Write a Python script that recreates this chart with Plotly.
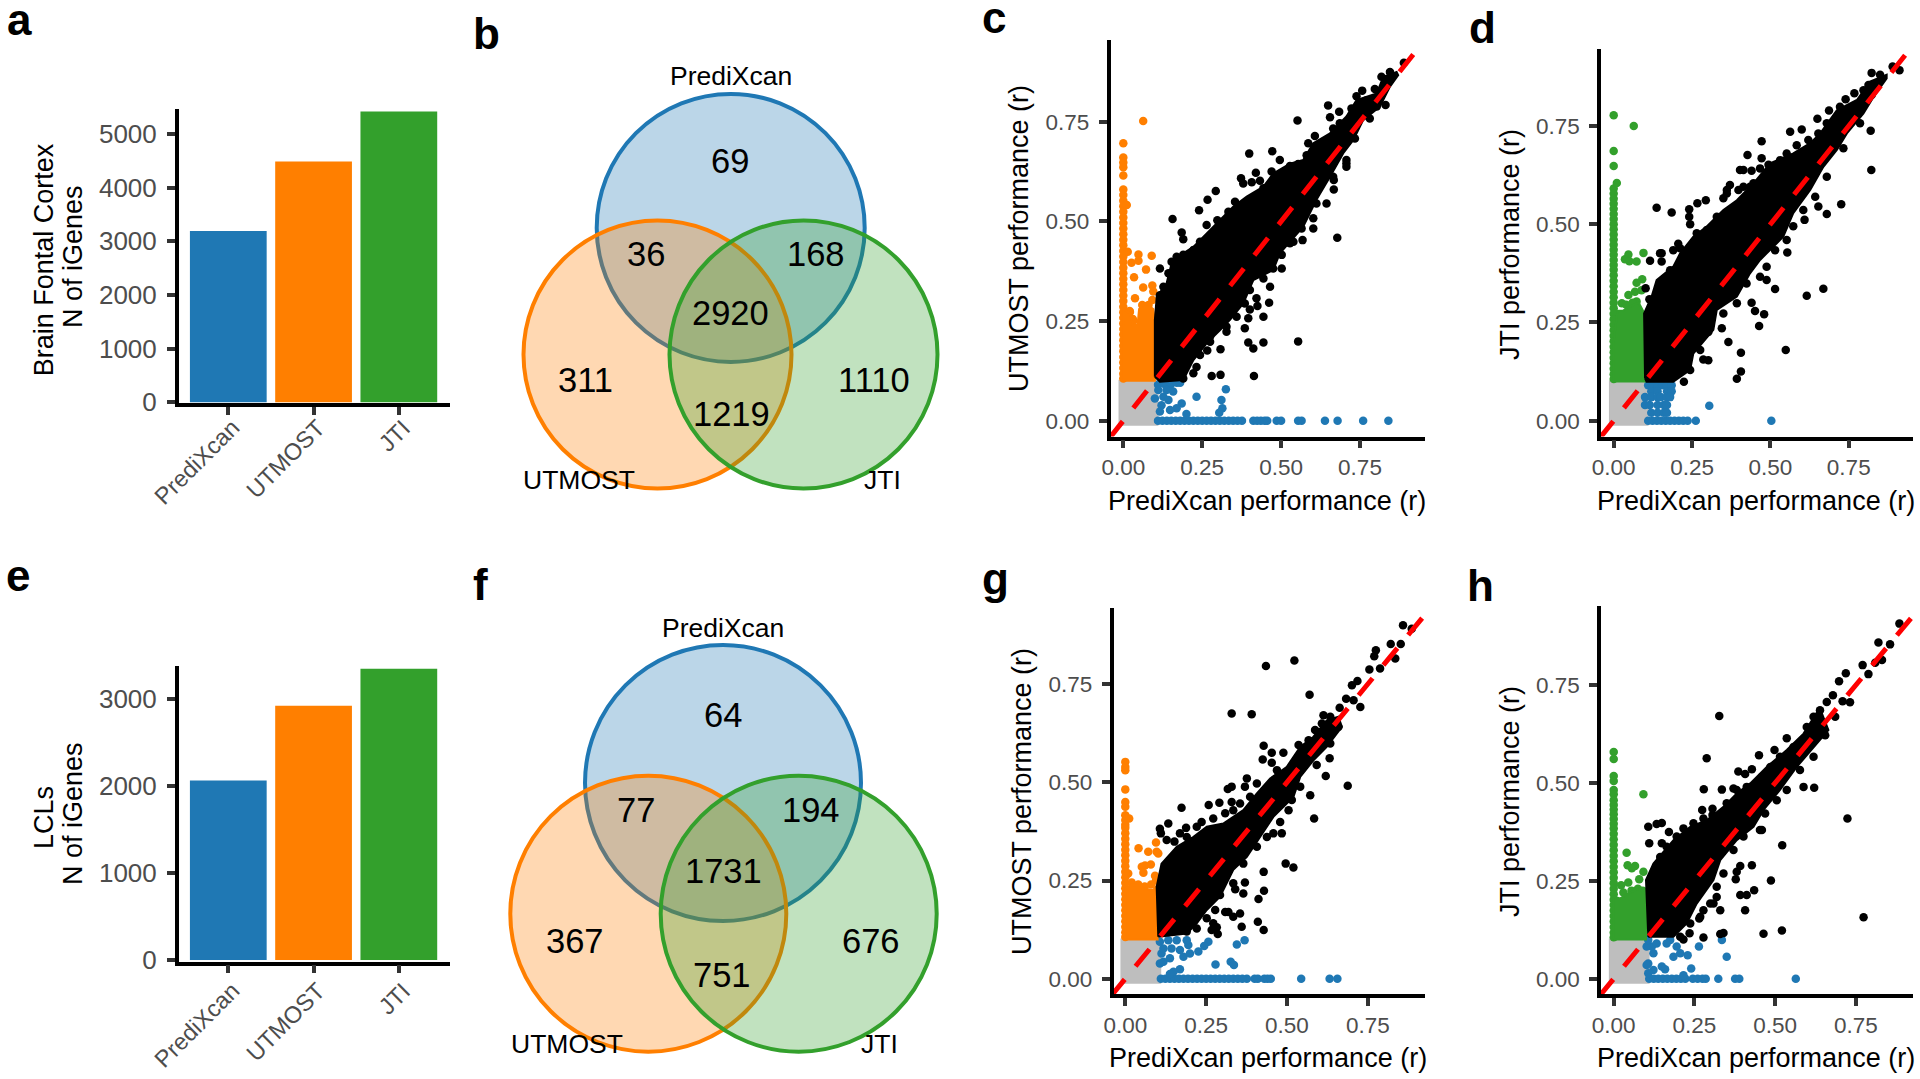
#!/usr/bin/env python3

import plotly.graph_objects as go

W = 1920
H = 1079

BLUE = '#1f78b4'
ORANGE = '#ff7f00'
GREEN = '#33a02c'
GREY = '#bebebe'
FONT = 'Liberation Sans'

methods = ['PrediXcan', 'UTMOST', 'JTI']
bars_a = [3193, 4486, 5417]
bars_e = [2066, 2926, 3352]

# venn counts, order: only1, 1&2, 1&3, all, only2, only3, 2&3
venn_b_counts = ['69', '36', '168', '2920', '311', '1110', '1219']
venn_f_counts = ['64', '77', '194', '1731', '367', '676', '751']

# the scatter clouds are too overplotted to read single genes, so the solid
# part of each cloud is its outline and only the points that stand clear are listed
col_low = [0.384, 0.37, 0.356, 0.342, 0.328, 0.314, 0.3, 0.286, 0.272, 0.258, 0.244, 0.23, 0.216,
           0.202, 0.188, 0.174, 0.16, 0.146, 0.132, 0.118, 0.106]
row_low = [0.11, 0.124, 0.138, 0.152, 0.166, 0.18, 0.194, 0.208, 0.222]
row_mid = [0.236, 0.25, 0.264, 0.278, 0.292, 0.306, 0.32, 0.334, 0.348, 0.362]
grey_x = [-0.012, 0.108, 0.108, -0.012]
grey_y = [-0.01, -0.01, 0.1, 0.1]

# panel c
c_core_x = [0.1, 0.1, 0.106, 0.137, 0.153, 0.19, 0.222, 0.264, 0.306, 0.348, 0.391, 0.444, 0.475, 0.528, 0.57, 0.602,
            0.655, 0.707, 0.739, 0.803, 0.824, 0.866, 0.871, 0.845, 0.813, 0.76, 0.729, 0.697, 0.655, 0.612, 0.57,
            0.496, 0.475, 0.412, 0.38, 0.338, 0.306, 0.264, 0.222, 0.19, 0.116]
c_core_y = [0.11, 0.253, 0.311, 0.344, 0.395, 0.42, 0.436, 0.47, 0.503, 0.537, 0.562, 0.587, 0.62, 0.645, 0.654, 0.696,
            0.721, 0.763, 0.804, 0.821, 0.863, 0.875, 0.867, 0.838, 0.788, 0.754, 0.704, 0.671, 0.612, 0.554, 0.487,
            0.42, 0.378, 0.353, 0.294, 0.253, 0.227, 0.194, 0.152, 0.102, 0.098]
c_black_x = [0.889, 0.757, 0.797, 0.649, 0.684, 0.655, 0.552, 0.831, 0.707, 0.667, 0.667, 0.678, 0.399, 0.472, 0.42,
             0.373, 0.293, 0.267, 0.24, 0.156, 0.185, 0.116, 0.19, 0.602, 0.568, 0.539, 0.502, 0.465, 0.462, 0.422,
             0.425, 0.401, 0.444, 0.396, 0.385, 0.327, 0.275, 0.308, 0.266, 0.396, 0.412, 0.444, 0.554, 0.414, 0.308,
             0.28, 0.232, 0.707]
c_black_y = [0.898, 0.828, 0.832, 0.791, 0.775, 0.761, 0.753, 0.792, 0.637, 0.604, 0.58, 0.459, 0.67, 0.676, 0.622,
             0.608, 0.576, 0.554, 0.528, 0.506, 0.472, 0.382, 0.455, 0.482, 0.453, 0.449, 0.382, 0.336, 0.296, 0.307,
             0.288, 0.279, 0.261, 0.257, 0.232, 0.223, 0.198, 0.179, 0.176, 0.196, 0.181, 0.196, 0.199, 0.112, 0.115,
             0.112, 0.135, 0.645]
c_rim_x = [0.169, 0.19, 0.222, 0.243, 0.264, 0.298, 0.333, 0.354, 0.38, 0.407, 0.433, 0.444, 0.47, 0.496, 0.528, 0.554,
           0.581, 0.586, 0.607, 0.665, 0.686, 0.723, 0.739, 0.771, 0.818, 0.845, 0.153, 0.143, 0.127, 0.116,
           0.243, 0.222, 0.19, 0.275, 0.327, 0.359, 0.385, 0.401, 0.444, 0.475, 0.502, 0.528, 0.565, 0.602, 0.612, 0.644,
           0.665, 0.707, 0.734, 0.781, 0.803]
c_rim_y = [0.411, 0.416, 0.428, 0.449, 0.491, 0.503, 0.524, 0.549, 0.595, 0.598, 0.602, 0.583, 0.625, 0.654, 0.639, 0.644,
           0.666, 0.696, 0.714, 0.733, 0.746, 0.783, 0.814, 0.804, 0.863, 0.875, 0.399, 0.37, 0.336, 0.315,
           0.165, 0.119, 0.106, 0.211, 0.236, 0.261, 0.294, 0.328, 0.357, 0.382, 0.416, 0.445, 0.482, 0.508, 0.545, 0.545,
           0.612, 0.654, 0.708, 0.758, 0.788]
c_side_x = [0.063, 0.011, 0.048, 0.026, 0.048, 0.09, 0.072, 0.034, 0.063, 0.092, 0.095, 0.037, 0.092, 0.014, 0.021,
            0.032, 0.02, 0.03, 0.015, 0.06, 0.08]
c_side_y = [0.752, 0.541, 0.417, 0.396, 0.401, 0.414, 0.379, 0.36, 0.334, 0.339, 0.324, 0.307, 0.303, 0.424, 0.273,
            0.25, 0.275, 0.255, 0.23, 0.29, 0.29]
c_side_col = [0.696, 0.66, 0.648, 0.636, 0.615, 0.58, 0.566, 0.552, 0.538, 0.524, 0.51, 0.496, 0.482, 0.468, 0.454,
              0.44, 0.426, 0.412, 0.398]
c_side_mass_x = [0.0, 0.1, 0.1, 0.095, 0.07, 0.05, 0.045, 0.03, 0.02, 0.0]
c_side_mass_y = [0.1, 0.1, 0.25, 0.28, 0.295, 0.28, 0.24, 0.24, 0.27, 0.28]
c_base_row = [0.376, 0.412, 0.424, 0.436, 0.448, 0.456, 0.486, 0.5, 0.554, 0.565, 0.639, 0.679, 0.76, 0.84]
c_base_x = [0.11, 0.13, 0.15, 0.17, 0.18, 0.325, 0.232, 0.311, 0.314, 0.304, 0.2, 0.185, 0.169, 0.148, 0.121, 0.1,
            0.127, 0.143, 0.116, 0.158, 0.137, 0.111]
c_base_y = [0.09, 0.092, 0.09, 0.095, 0.095, 0.079, 0.06, 0.052, 0.031, 0.02, 0.017, 0.043, 0.031, 0.027, 0.039, 0.056,
            0.06, 0.052, 0.023, 0.073, 0.077, 0.077]

# panel d
d_core_x = [0.1, 0.097, 0.121, 0.137, 0.19, 0.212, 0.254, 0.297, 0.35, 0.393, 0.446, 0.499, 0.573, 0.627, 0.659, 0.712,
            0.776, 0.818, 0.871, 0.871, 0.829, 0.797, 0.744, 0.712, 0.669, 0.627, 0.573, 0.541, 0.467, 0.435, 0.393,
            0.329, 0.318, 0.254, 0.244, 0.19, 0.105]
d_core_y = [0.108, 0.273, 0.316, 0.358, 0.392, 0.426, 0.468, 0.494, 0.536, 0.561, 0.604, 0.655, 0.68, 0.706, 0.731,
            0.79, 0.816, 0.863, 0.88, 0.871, 0.824, 0.782, 0.731, 0.689, 0.646, 0.587, 0.528, 0.468, 0.409, 0.375,
            0.316, 0.282, 0.231, 0.171, 0.129, 0.099, 0.099]
d_black_x = [0.89, 0.912, 0.823, 0.768, 0.797, 0.74, 0.687, 0.65, 0.472, 0.563, 0.6, 0.427, 0.472, 0.82, 0.822, 0.726,
             0.68, 0.653, 0.609, 0.573, 0.554, 0.669, 0.616, 0.515, 0.488, 0.44, 0.451, 0.48, 0.464, 0.345, 0.366,
             0.549, 0.406, 0.406, 0.393, 0.224, 0.302, 0.286, 0.137, 0.185, 0.241, 0.241, 0.244, 0.267, 0.294, 0.361,
             0.35, 0.403, 0.414, 0.44, 0.398, 0.435, 0.148, 0.116, 0.153, 0.19, 0.206, 0.102, 0.114]
d_black_y = [0.901, 0.892, 0.885, 0.833, 0.841, 0.818, 0.789, 0.768, 0.711, 0.735, 0.741, 0.676, 0.668, 0.738, 0.638,
             0.551, 0.526, 0.545, 0.511, 0.495, 0.428, 0.336, 0.318, 0.335, 0.358, 0.3, 0.279, 0.271, 0.241, 0.235, 0.2,
             0.18, 0.173, 0.125, 0.107, 0.099, 0.154, 0.156, 0.542, 0.53, 0.538, 0.519, 0.5, 0.553, 0.561, 0.587, 0.566,
             0.638, 0.638, 0.636, 0.587, 0.595, 0.426, 0.407, 0.405, 0.434, 0.45, 0.337, 0.309]
d_rim_x = [0.153, 0.18, 0.212, 0.222, 0.265, 0.297, 0.329, 0.361, 0.371, 0.414, 0.446, 0.467, 0.494, 0.531, 0.552, 0.584,
           0.621, 0.653, 0.68, 0.722, 0.813, 0.85,
           0.244, 0.201, 0.276, 0.302, 0.35, 0.393, 0.424, 0.467, 0.488, 0.515, 0.552, 0.605, 0.643, 0.68, 0.733, 0.786,
           0.823]
d_rim_y = [0.426, 0.383, 0.439, 0.409, 0.477, 0.485, 0.519, 0.578, 0.6, 0.595, 0.604, 0.642, 0.651, 0.663, 0.68, 0.701,
           0.714, 0.731, 0.757, 0.799, 0.854, 0.88,
           0.129, 0.12, 0.18, 0.226, 0.273, 0.299, 0.349, 0.366, 0.392, 0.434, 0.46, 0.536, 0.57, 0.621, 0.693, 0.757,
           0.829]
d_side_x = [0.064, 0.01, 0.047, 0.036, 0.05, 0.073, 0.095, 0.091, 0.073, 0.068, 0.047, 0.089, 0.026, 0.073, 0.04, 0.06]
d_side_y = [0.75, 0.605, 0.423, 0.411, 0.406, 0.405, 0.427, 0.36, 0.351, 0.328, 0.32, 0.332, 0.299, 0.303, 0.295, 0.3]
d_side_col = [0.777, 0.686, 0.648, 0.591, 0.578, 0.565, 0.552, 0.539, 0.526, 0.513, 0.5, 0.487, 0.474, 0.461, 0.448,
              0.435, 0.422, 0.409, 0.396]
d_side_mass_x = [0.0, 0.1, 0.1, 0.08, 0.05, 0.03, 0.012, 0.0]
d_side_mass_y = [0.1, 0.1, 0.27, 0.3, 0.29, 0.28, 0.28, 0.2]
d_base_row = [0.236, 0.262, 0.503]
d_base_x = [0.305, 0.11, 0.125, 0.14, 0.155, 0.17, 0.185, 0.12, 0.14, 0.17, 0.185, 0.1, 0.12, 0.14, 0.15, 0.17, 0.18,
            0.1, 0.115, 0.14, 0.16, 0.17, 0.12, 0.14, 0.16, 0.17]
d_base_y = [0.038, 0.09, 0.09, 0.09, 0.09, 0.09, 0.09, 0.075, 0.075, 0.075, 0.075, 0.06, 0.06, 0.06, 0.06, 0.06, 0.06,
            0.04, 0.04, 0.04, 0.04, 0.04, 0.02, 0.02, 0.02, 0.02]

# panel g
g_core_x = [0.102, 0.097, 0.112, 0.159, 0.211, 0.252, 0.303, 0.365, 0.407, 0.448, 0.499, 0.541, 0.582, 0.623, 0.659,
            0.67, 0.623, 0.582, 0.541, 0.52, 0.458, 0.438, 0.376, 0.334, 0.293, 0.252, 0.221, 0.19, 0.118]
g_core_y = [0.107, 0.234, 0.293, 0.336, 0.361, 0.387, 0.395, 0.429, 0.472, 0.51, 0.539, 0.59, 0.616, 0.658, 0.667,
            0.641, 0.59, 0.556, 0.514, 0.463, 0.412, 0.387, 0.31, 0.277, 0.209, 0.175, 0.141, 0.115, 0.107]
g_black_x = [0.859, 0.886, 0.821, 0.852, 0.775, 0.77, 0.835, 0.523, 0.435, 0.788, 0.755, 0.57, 0.329, 0.391, 0.701,
             0.718, 0.683, 0.706, 0.727, 0.663, 0.613, 0.428, 0.453, 0.489, 0.425, 0.453, 0.632, 0.62, 0.688, 0.572,
             0.584, 0.376, 0.317, 0.329, 0.37, 0.174, 0.258, 0.291, 0.329, 0.107, 0.133, 0.11, 0.169, 0.188, 0.152,
             0.496, 0.52, 0.428, 0.37, 0.429, 0.34, 0.365, 0.412, 0.319, 0.334, 0.355, 0.36, 0.41, 0.428, 0.283, 0.286,
             0.267]
g_black_y = [0.9, 0.891, 0.852, 0.852, 0.836, 0.821, 0.815, 0.81, 0.796, 0.79, 0.787, 0.723, 0.675, 0.673, 0.747, 0.758,
             0.713, 0.709, 0.692, 0.69, 0.671, 0.593, 0.575, 0.575, 0.558, 0.55, 0.561, 0.516, 0.491, 0.467, 0.408, 0.51,
             0.483, 0.489, 0.489, 0.435, 0.442, 0.448, 0.45, 0.382, 0.395, 0.37, 0.37, 0.384, 0.349, 0.293, 0.283, 0.272,
             0.245, 0.224, 0.228, 0.217, 0.203, 0.17, 0.158, 0.166, 0.132, 0.145, 0.124, 0.131, 0.114, 0.124]
g_rim_x = [0.128, 0.19, 0.221, 0.236, 0.272, 0.309, 0.334, 0.355, 0.386, 0.407, 0.469, 0.505, 0.536, 0.567, 0.587, 0.608,
           0.634, 0.211, 0.231, 0.278, 0.309, 0.293, 0.334, 0.365, 0.407, 0.438, 0.458, 0.484, 0.479, 0.505, 0.515,
           0.541, 0.592, 0.634, 0.659, 0.19, 0.221, 0.252, 0.272]
g_rim_y = [0.353, 0.361, 0.387, 0.399, 0.408, 0.421, 0.429, 0.446, 0.463, 0.497, 0.531, 0.531, 0.595, 0.607, 0.633, 0.65,
           0.667, 0.149, 0.175, 0.175, 0.17, 0.213, 0.243, 0.293, 0.336, 0.361, 0.37, 0.37, 0.399, 0.429, 0.455,
           0.489, 0.544, 0.599, 0.641, 0.12, 0.128, 0.154, 0.141]
g_side_x = [0.012, 0.041, 0.071, 0.095, 0.097, 0.102, 0.051, 0.061, 0.079, 0.056, 0.092, 0.009, 0.02, 0.04, 0.06, 0.08,
            0.095]
g_side_y = [0.408, 0.332, 0.323, 0.347, 0.323, 0.319, 0.285, 0.288, 0.291, 0.27, 0.262, 0.268, 0.245, 0.24, 0.235, 0.24,
            0.25]
g_side_col = [0.552, 0.539, 0.531, 0.482, 0.45, 0.438, 0.416, 0.404, 0.392]
g_side_mass_x = [0.0, 0.1, 0.1, 0.085, 0.06, 0.04, 0.02, 0.0]
g_side_mass_y = [0.1, 0.1, 0.24, 0.225, 0.23, 0.235, 0.24, 0.23]
g_base_row = [0.376, 0.4, 0.41, 0.43, 0.44, 0.45, 0.544, 0.632, 0.656]
g_base_x = [0.369, 0.345, 0.257, 0.244, 0.279, 0.326, 0.336, 0.169, 0.149, 0.138, 0.107, 0.118, 0.138, 0.112, 0.118,
            0.143, 0.159, 0.18, 0.2, 0.226, 0.195, 0.169, 0.107, 0.133, 0.19]
g_base_y = [0.098, 0.087, 0.094, 0.083, 0.036, 0.043, 0.035, 0.024, 0.018, 0.012, 0.039, 0.043, 0.052, 0.064, 0.077,
            0.077, 0.098, 0.056, 0.064, 0.069, 0.086, 0.073, 0.094, 0.098, 0.098]

# panel h
h_core_x = [0.107, 0.1, 0.123, 0.185, 0.237, 0.288, 0.34, 0.381, 0.423, 0.474, 0.536, 0.588, 0.634, 0.645, 0.665, 0.619,
            0.567, 0.515, 0.464, 0.433, 0.381, 0.33, 0.309, 0.257, 0.226, 0.185]
h_core_y = [0.107, 0.252, 0.294, 0.354, 0.388, 0.405, 0.439, 0.473, 0.499, 0.541, 0.584, 0.626, 0.686, 0.677, 0.635,
            0.592, 0.541, 0.482, 0.431, 0.388, 0.354, 0.303, 0.252, 0.192, 0.141, 0.107]
h_black_x = [0.885, 0.82, 0.856, 0.831, 0.81, 0.771, 0.719, 0.698, 0.789, 0.732, 0.679, 0.709, 0.66, 0.639, 0.686,
             0.327, 0.288, 0.45, 0.498, 0.536, 0.386, 0.407, 0.428, 0.588, 0.621, 0.279, 0.335, 0.371, 0.274, 0.306,
             0.306, 0.724, 0.522, 0.459, 0.428, 0.392, 0.381, 0.378, 0.487, 0.435, 0.392, 0.412, 0.407, 0.774, 0.521,
             0.464, 0.33, 0.34, 0.33, 0.278, 0.216, 0.235, 0.107, 0.133, 0.149, 0.11, 0.171, 0.149, 0.265, 0.278, 0.299,
             0.319]
h_black_y = [0.907, 0.859, 0.854, 0.814, 0.807, 0.801, 0.78, 0.76, 0.778, 0.706, 0.724, 0.709, 0.707, 0.686, 0.669,
             0.671, 0.563, 0.571, 0.584, 0.614, 0.529, 0.523, 0.535, 0.49, 0.488, 0.484, 0.483, 0.486, 0.431, 0.434,
             0.418, 0.409, 0.341, 0.38, 0.29, 0.288, 0.273, 0.254, 0.251, 0.226, 0.214, 0.214, 0.175, 0.157, 0.123,
             0.115, 0.175, 0.117, 0.114, 0.105, 0.1, 0.116, 0.388, 0.395, 0.398, 0.346, 0.375, 0.346, 0.154, 0.175, 0.192,
             0.209]
h_rim_x = [0.144, 0.164, 0.195, 0.216, 0.247, 0.278, 0.35, 0.381, 0.412, 0.459, 0.485, 0.515, 0.557, 0.598, 0.619,
           0.237, 0.268, 0.309, 0.319, 0.34, 0.371, 0.402, 0.453, 0.469, 0.505, 0.536, 0.577, 0.619, 0.655, 0.206]
h_rim_y = [0.311, 0.337, 0.363, 0.384, 0.397, 0.409, 0.448, 0.482, 0.49, 0.516, 0.541, 0.567, 0.592, 0.643, 0.669,
           0.141, 0.158, 0.192, 0.235, 0.269, 0.329, 0.363, 0.38, 0.422, 0.456, 0.482, 0.533, 0.567, 0.622, 0.107]
h_side_x = [0.092, 0.04, 0.043, 0.066, 0.092, 0.079, 0.023, 0.045, 0.056, 0.03, 0.055, 0.075, 0.09]
h_side_y = [0.471, 0.322, 0.29, 0.288, 0.273, 0.254, 0.239, 0.246, 0.282, 0.22, 0.225, 0.23, 0.225]
h_side_col = [0.579, 0.561, 0.518, 0.505, 0.482, 0.471, 0.456, 0.444, 0.432, 0.42, 0.408, 0.396]
h_side_mass_x = [0.0, 0.1, 0.1, 0.08, 0.05, 0.02, 0.0]
h_side_mass_y = [0.1, 0.1, 0.215, 0.23, 0.22, 0.205, 0.21]
h_base_row = [0.245, 0.26, 0.275, 0.285, 0.324, 0.376, 0.389, 0.564]
h_base_x = [0.335, 0.264, 0.35, 0.24, 0.229, 0.206, 0.185, 0.195, 0.175, 0.164, 0.149, 0.159, 0.123, 0.107, 0.123, 0.118,
            0.133, 0.102, 0.107, 0.102, 0.107, 0.216]
h_base_y = [0.099, 0.082, 0.056, 0.026, 0.06, 0.065, 0.056, 0.082, 0.099, 0.09, 0.031, 0.024, 0.022, 0.039, 0.065, 0.082,
            0.09, 0.082, 0.099, 0.035, 0.014, 0.009]

fig = go.Figure()
annots = []
shapes = []


def px_x(x):
    return x / W


def px_y(y):
    return 1 - y / H


def set_axes(n, left, right, top, bottom, x_range, y_range, **kw):
    suffix = '' if n == 1 else str(n)
    xname = 'xaxis' + suffix
    yname = 'yaxis' + suffix
    common = dict(showgrid=False, zeroline=False, showline=True, linecolor='black', linewidth=3.5,
                  ticks='outside', ticklen=8, tickwidth=3.5, tickcolor='#333333',
                  tickfont=dict(family=FONT, color='#4d4d4d', size=kw.get('tick_size', 22.5)),
                  ticklabelstandoff=5, automargin=False)
    xaxis = dict(common, domain=[px_x(left), px_x(right)], range=x_range, anchor='y' + suffix)
    yaxis = dict(common, domain=[px_y(bottom), px_y(top)], range=y_range, anchor='x' + suffix)
    xaxis.update(kw.get('x_extra', {}))
    yaxis.update(kw.get('y_extra', {}))
    fig.update_layout(**{xname: xaxis, yname: yaxis})
    return 'x' + suffix, 'y' + suffix


def label(text, x, y, size, color='black', angle=0, bold=False, anchor='center'):
    annots.append(dict(text='<b>%s</b>' % text if bold else text, x=px_x(x), y=px_y(y), xref='paper', yref='paper',
                       showarrow=False, textangle=angle, xanchor=anchor, yanchor='middle',
                       font=dict(family=FONT, size=size, color=color)))


def bar_panel(n, values, left, right, top, bottom, x_range, y_range, ticks, title_lines, names_top):
    xa, ya = set_axes(n, left, right, top, bottom, x_range, y_range, tick_size=26,
                      x_extra=dict(tickmode='array', tickvals=[0, 1, 2], showticklabels=False),
                      y_extra=dict(tickmode='array', tickvals=ticks))
    fig.add_trace(go.Bar(x=[0, 1, 2], y=values, width=0.9, marker=dict(color=[BLUE, ORANGE, GREEN], line=dict(width=0)),
                         xaxis=xa, yaxis=ya, showlegend=False))
    for text, x, y in title_lines:
        label(text, x, y, 27, angle=-90)
    # ggplot puts the end of a slanted label past the tick, plotly's ticklabels can't do that
    for i, text in enumerate(methods):
        annots.append(dict(text=text, x=i, y=px_y(names_top), xref=xa, yref='paper', showarrow=False, textangle=-45,
                           xanchor='right', yanchor='top', xshift=19,
                           font=dict(family=FONT, size=23.5, color='#4d4d4d')))


def venn_panel(n, x_range, y_range, cx, cy, r, counts, count_xy, names_xy):
    left, right = x_range
    bottom, top = y_range
    xa, ya = set_axes(n, left, right, top, bottom, [left, right], [bottom, top],
                      x_extra=dict(visible=False), y_extra=dict(visible=False))
    # needs a trace or the hidden axes do not exist for the shapes
    fig.add_trace(go.Scatter(x=[cx[0]], y=[cy[0]], mode='markers', marker=dict(opacity=0), xaxis=xa, yaxis=ya,
                             showlegend=False))
    for i, color in enumerate([(31, 120, 180), (255, 127, 0), (51, 160, 44)]):
        shapes.append(dict(type='circle', xref=xa, yref=ya, x0=cx[i] - r, x1=cx[i] + r, y0=cy[i] - r, y1=cy[i] + r,
                           fillcolor='rgba(%d,%d,%d,0.3)' % color, line=dict(color='rgb(%d,%d,%d)' % color, width=4)))
    for text, (x, y) in zip(counts, count_xy):
        annots.append(dict(text=text, x=x, y=y, xref=xa, yref=ya, showarrow=False,
                           font=dict(family=FONT, size=34.5, color='black')))
    for text, (x, y) in zip(methods, names_xy):
        annots.append(dict(text=text, x=x, y=y, xref=xa, yref=ya, showarrow=False,
                           font=dict(family=FONT, size=26.5, color='black')))


def scatter_panel(n, place, side_color, core_x, core_y, black_x, black_y, side_col, side_x, side_y, mass_x, mass_y,
                  base_row, base_x, base_y, line_end, xtitle_xy, ytitle, ytitle_xy):
    xa, ya = set_axes(n, *place, x_extra=dict(tickmode='array', tickvals=[0, 0.25, 0.5, 0.75], tickformat='.2f',
                                              ticklabelstandoff=0),
                      y_extra=dict(tickmode='array', tickvals=[0, 0.25, 0.5, 0.75], tickformat='.2f'))

    def dots(x, y, color):
        fig.add_trace(go.Scatter(x=x, y=y, mode='markers', marker=dict(color=color, size=8.5, line=dict(width=0)),
                                 xaxis=xa, yaxis=ya, showlegend=False))

    def mass(x, y, color):
        fig.add_trace(go.Scatter(x=x + x[:1], y=y + y[:1], mode='lines', fill='toself', fillcolor=color,
                                 line=dict(color=color, width=2), xaxis=xa, yaxis=ya, showlegend=False))

    mass(grey_x, grey_y, GREY)
    rows = row_low + base_row
    dots(rows + base_x, [0] * len(rows) + base_y, BLUE)
    cols = side_col + col_low
    dots([0] * len(cols) + side_x, cols + side_y, side_color)
    mass(mass_x, mass_y, side_color)
    mass(core_x, core_y, 'black')
    dots(black_x, black_y, 'black')
    fig.add_trace(go.Scatter(x=[-0.045, line_end], y=[-0.045, line_end], mode='lines', cliponaxis=False,
                             line=dict(color='#ff0000', width=5, dash='22px,17px'), xaxis=xa, yaxis=ya, showlegend=False))
    label('PrediXcan performance (r)', xtitle_xy[0], xtitle_xy[1], 27)
    label(ytitle, ytitle_xy[0], ytitle_xy[1], 27, angle=-90)


bar_panel(1, bars_a, 178.75, 450, 108.9, 403.25, [-0.581, 2.6], [-18, 5466], [0, 1000, 2000, 3000, 4000, 5000],
          [('Brain Fontal Cortex', 44, 260.3), ('N of iGenes', 73, 257)], 412)
bar_panel(5, bars_e, 178.75, 450, 666, 961.5, [-0.581, 2.6], [-17, 3383], [0, 1000, 2000, 3000],
          [('LCLs', 44, 818), ('N of iGenes', 73, 814)], 975)

venn_panel(2, (480, 960), (530, 0), [730.7, 657.5, 803.5], [227.9, 354.5, 354.5], 134, venn_b_counts,
           [(730, 160.6), (646, 253.5), (816, 253.5), (730, 312.7), (585, 379.6), (874, 379.6), (731, 413.5)],
           [(731, 76.4), (579, 480), (882, 480)])
venn_panel(6, (480, 960), (1079, 560), [723, 648.3, 798.7], [783, 913.7, 913.7], 138, venn_f_counts,
           [(723, 715), (636, 810), (811, 810), (723, 871), (575, 941), (871, 941), (722, 975)],
           [(723, 628), (567, 1044), (879, 1044)])

scatter_panel(3, (1110.5, 1425, 40, 436.5, [-0.0406, 0.956], [-0.0396, 0.955]), ORANGE, c_core_x, c_core_y,
              c_black_x + c_rim_x, c_black_y + c_rim_y, c_side_col, c_side_x, c_side_y, c_side_mass_x, c_side_mass_y,
              c_base_row + row_mid, c_base_x, c_base_y, 0.93, (1267, 501), 'UTMOST performance (r)', (1019, 239))
scatter_panel(4, (1601, 1913.3, 49.3, 436.5, [-0.0405, 0.956], [-0.0402, 0.945]), GREEN, d_core_x, d_core_y,
              d_black_x + d_rim_x, d_black_y + d_rim_y, d_side_col, d_side_x, d_side_y, d_side_mass_x, d_side_mass_y,
              d_base_row, d_base_x, d_base_y, 0.94, (1756, 501), 'JTI performance (r)', (1510, 245))
scatter_panel(7, (1113.5, 1425, 608.3, 994.3, [-0.0365, 0.927], [-0.0397, 0.943]), ORANGE, g_core_x, g_core_y,
              g_black_x + g_rim_x, g_black_y + g_rim_y, g_side_col, g_side_x, g_side_y, g_side_mass_x, g_side_mass_y,
              g_base_row + row_mid, g_base_x, g_base_y, 0.928, (1268, 1058), 'UTMOST performance (r)', (1022, 802))
scatter_panel(8, (1601, 1913.3, 606, 994.3, [-0.0394, 0.928], [-0.0398, 0.952]), GREEN, h_core_x, h_core_y,
              h_black_x + h_rim_x, h_black_y + h_rim_y, h_side_col, h_side_x, h_side_y, h_side_mass_x, h_side_mass_y,
              h_base_row, h_base_x, h_base_y, 0.928, (1756, 1058), 'JTI performance (r)', (1510, 802))

for text, x, y in [('a', 5, 20), ('b', 471, 33), ('c', 980, 17), ('d', 1467, 28),
                   ('e', 4, 575), ('f', 471, 584), ('g', 980, 578), ('h', 1465, 585)]:
    label(text, x, y, 44, bold=True, anchor='left')

fig.update_layout(width=W, height=H, margin=dict(l=0, r=0, t=0, b=0), paper_bgcolor='white', plot_bgcolor='white',
                  showlegend=False, annotations=annots, shapes=shapes, bargap=0.1)

fig.write_html("out.html", config=dict(displayModeBar=False),
               post_script="document.body.style.margin='0';document.body.style.overflow='hidden';")
